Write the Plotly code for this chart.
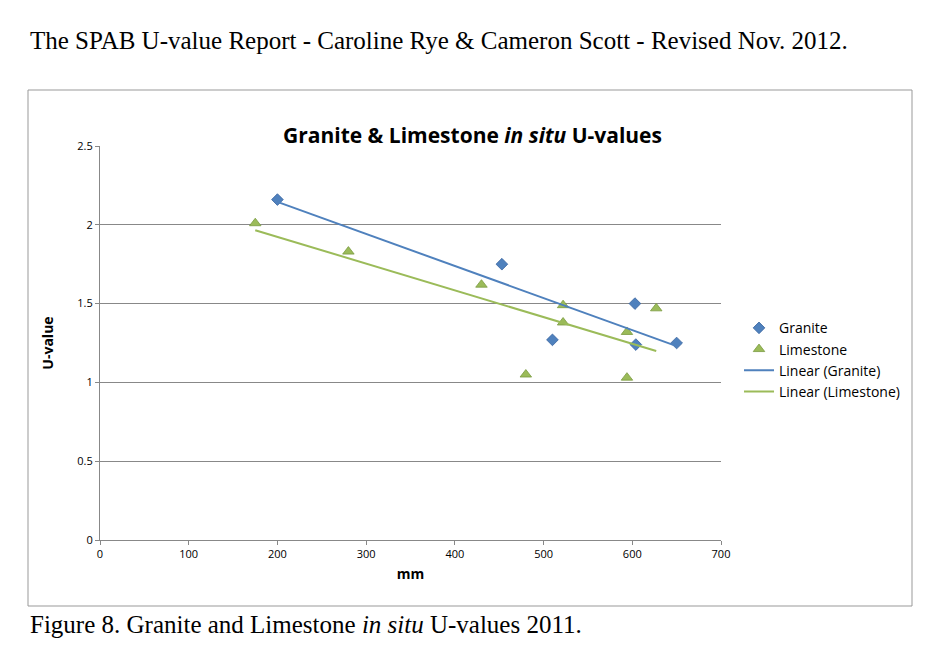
import numpy as np
import plotly.graph_objects as go

granite_mm = [200, 453, 510, 603, 604, 650]
granite_u = [2.16, 1.75, 1.27, 1.50, 1.24, 1.25]
limestone_mm = [175, 280, 430, 480, 522, 522, 594, 594, 627]
limestone_u = [2.01, 1.83, 1.62, 1.05, 1.49, 1.38, 1.32, 1.03, 1.47]

blue = "#4f81bd"
green = "#9bbb59"


def trend(x, y):
    k, b = np.polyfit(x, y, 1)
    xs = np.array([min(x), max(x)])
    return xs, k * xs + b


fig = go.Figure()
fig.add_trace(go.Scatter(x=granite_mm, y=granite_u, mode="markers", name="Granite",
                         marker=dict(symbol="diamond", size=9, color=blue,
                                     line=dict(color="#3a65a0", width=0.8))))
fig.add_trace(go.Scatter(x=limestone_mm, y=limestone_u, mode="markers", name="Limestone",
                         marker=dict(symbol="triangle-up", size=10, color=green,
                                     line=dict(color="#7a9a40", width=0.8))))
gx, gy = trend(granite_mm, granite_u)
fig.add_trace(go.Scatter(x=gx, y=gy, mode="lines", name="Linear (Granite)",
                         line=dict(color=blue, width=2)))
lx, ly = trend(limestone_mm, limestone_u)
fig.add_trace(go.Scatter(x=lx, y=ly, mode="lines", name="Linear (Limestone)",
                         line=dict(color=green, width=2)))

font = "Open Sans, Liberation Sans, sans-serif"
serif = "Liberation Serif, Times New Roman, serif"

fig.update_layout(
    width=937, height=668,
    margin=dict(l=92, r=224, t=138, b=136),
    paper_bgcolor="white", plot_bgcolor="white",
    font=dict(family=font, size=11, color="black"),
    showlegend=True,
    legend=dict(x=1.029, y=0.578, xanchor="left", yanchor="top",
                font=dict(size=14), bgcolor="rgba(0,0,0,0)", tracegroupgap=4),
    xaxis=dict(range=[0, 700], dtick=100, showgrid=False, showline=True,
               linecolor="#888", ticks="outside", tickcolor="#888", ticklen=4,
               zeroline=False,
               title=dict(text="<b>mm</b>", font=dict(size=14), standoff=8)),
    yaxis=dict(range=[0, 2.5], dtick=0.5, showgrid=True, gridcolor="#888",
               showline=True, linecolor="#888", ticks="outside", tickcolor="#888",
               ticklen=4, zeroline=False,
               title=dict(text="<b>U-value</b>", font=dict(size=14), standoff=20)),
    shapes=[dict(type="rect", xref="paper", yref="paper",
                 x0=(28 - 100) / 621, x1=(912 - 100) / 621,
                 y0=(540 - 606) / 394, y1=(540 - 90) / 394,
                 line=dict(color="#999", width=1), layer="below")],
    annotations=[
        dict(text="<b>Granite & Limestone <i>in situ</i> U-values</b>",
             xref="paper", yref="paper", x=(472 - 100) / 621, y=(540 - 119) / 394,
             showarrow=False, font=dict(size=21, family=font)),
        dict(text="The SPAB U-value Report - Caroline Rye & Cameron Scott - Revised Nov. 2012.",
             xref="paper", yref="paper", x=(28 - 100) / 621, y=(540 - 25) / 394,
             xanchor="left", showarrow=False, font=dict(size=25, family=serif)),
        dict(text="Figure 8. Granite and Limestone <i>in situ</i> U-values 2011.",
             xref="paper", yref="paper", x=(28 - 100) / 621, y=(540 - 640) / 394,
             xanchor="left", showarrow=False, font=dict(size=25, family=serif)),
    ],
)

fig.write_html("out.html")
